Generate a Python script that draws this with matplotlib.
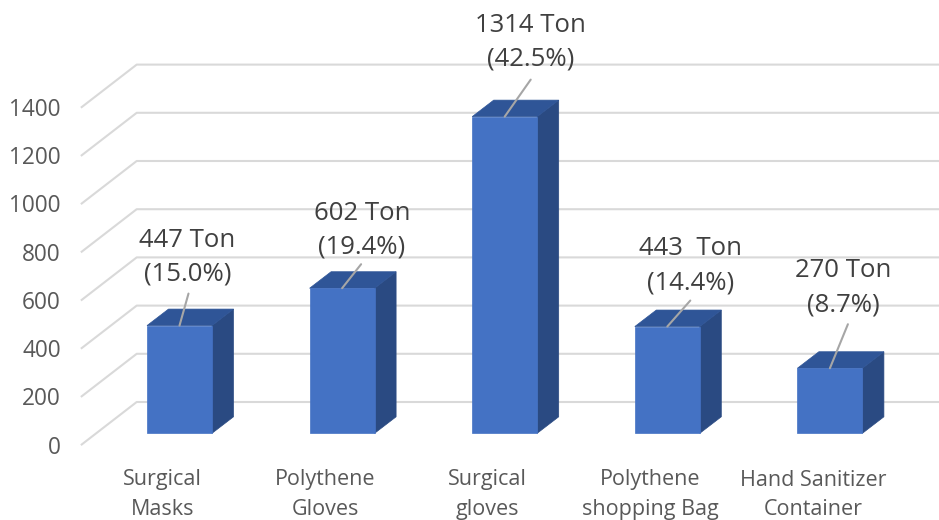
import numpy as np
import matplotlib
matplotlib.use('Agg')
import matplotlib.pyplot as plt

categories = ['Surgical\nMasks', 'Polythene\nGloves', 'Surgical\ngloves',
              'Polythene\nshopping Bag', 'Hand Sanitizer\nContainer']
tons = [447, 602, 1314, 443, 270]
bar_labels = ['447 Ton\n(15.0%)', '602 Ton\n(19.4%)', '1314 Ton\n(42.5%)',
              '443  Ton\n(14.4%)', '270 Ton\n(8.7%)']
yticks = [0, 200, 400, 600, 800, 1000, 1200, 1400]

# layout, in pixels (fig is 939x520 at dpi 100)
W, H = 939, 520
left_px, bottom_px = 81.7, 444.5
step_px = 162.6
first_bar_px = 179.5
px_per_ton = 0.241
bar_w_px = 65
floor_px = 11.2          # bars stand this far above the front zero line
bar_dx, bar_dy = 21.5, 16.5
wall_dx, wall_dy = 55, 42.5

# label and leader offsets from the middle of each bar's top edge
label_off = [(8, 68.5), (20, 58), (26, 74.5), (23, 61), (13, 80.5)]
leader_off = [(9, 32), (19, 24), (26, 37), (23, 26), (18, 44)]

fig = plt.figure(figsize=(W / 100, H / 100), dpi=100)
ax = fig.add_axes([left_px / W, 1 - bottom_px / H, 1 - left_px / W, bottom_px / H])
ax.set_xlim((left_px - first_bar_px) / step_px, (W - first_bar_px) / step_px)
ax.set_ylim(0, bottom_px / px_per_ton)
for s in ax.spines.values():
    s.set_visible(False)

font = 'Open Sans'
x = np.arange(len(tons))
base = floor_px / px_per_ton
w = bar_w_px / step_px
ddx, ddy = bar_dx / step_px, bar_dy / px_per_ton
wdx, wdy = wall_dx / step_px, wall_dy / px_per_ton
x0 = ax.get_xlim()[0]
x1 = ax.get_xlim()[1]

for v in yticks:
    ax.plot([x0, x0 + wdx, x1], [v, v + wdy, v + wdy], color='#d9d9d9', lw=1.5,
            clip_on=False, zorder=1, solid_joinstyle='round')

ax.bar(x, tons, width=w, bottom=base, color='#4472c4', edgecolor='#4472c4', lw=0.5, zorder=3.2)
for xi, v in zip(x, tons):
    l, r = xi - w / 2, xi + w / 2
    top = base + v
    ax.fill([r, r + ddx, r + ddx, r], [base, base + ddy, top + ddy, top],
            facecolor='#2a4a82', edgecolor='#2a4a82', lw=0.5, zorder=3)
    ax.fill([l, r, r + ddx, l + ddx], [top, top, top + ddy, top + ddy],
            facecolor='#2f5597', edgecolor='#2f5597', lw=0.5, zorder=3.1)

for xi, v, txt, lo, so in zip(x, tons, bar_labels, label_off, leader_off):
    top = base + v
    ax.annotate('', xy=(xi, top), xytext=so, textcoords='offset pixels',
                arrowprops=dict(arrowstyle='-', color='#a6a6a6', lw=1.5,
                                shrinkA=0, shrinkB=0), zorder=4, annotation_clip=False)
    ax.annotate(txt, xy=(xi, top), xytext=lo, textcoords='offset pixels', ha='center',
                va='center', fontsize=18.5, family=font, color='#404040',
                linespacing=1.48, zorder=5, annotation_clip=False)

ax.set_yticks(yticks)
ax.set_xticks(x - 17 / step_px)
ax.set_xticklabels(categories, family=font, fontsize=15.5, color='#595959', linespacing=1.55)
for t in ax.get_yticklabels():
    t.set_family(font)
    t.set_fontsize(16.3)
    t.set_color('#595959')
ax.tick_params(axis='both', length=0)
ax.tick_params(axis='x', pad=18)
ax.tick_params(axis='y', pad=15)

fig.savefig('out.png', dpi=100, facecolor='white')
